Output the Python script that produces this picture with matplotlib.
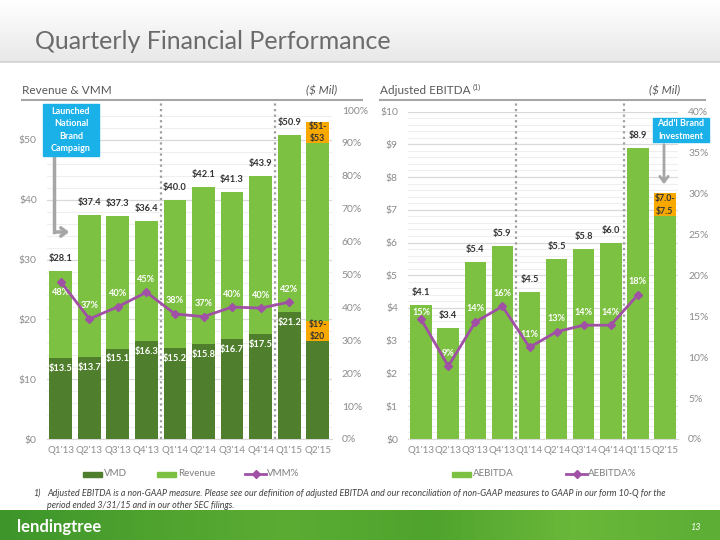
import numpy as np
import matplotlib
matplotlib.use("Agg")
import matplotlib.pyplot as plt
from matplotlib.patches import Rectangle, FancyArrowPatch
from matplotlib.lines import Line2D
from matplotlib.ticker import AutoMinorLocator, FuncFormatter
from matplotlib.colors import LinearSegmentedColormap

# ---- data ----
quarters = ["Q1'13", "Q2'13", "Q3'13", "Q4'13", "Q1'14",
            "Q2'14", "Q3'14", "Q4'14", "Q1'15", "Q2'15"]

revenue = [28.1, 37.4, 37.3, 36.4, 40.0, 42.1, 41.3, 43.9, 50.9, 49.5]
vmd = [13.5, 13.7, 15.1, 16.3, 15.2, 15.8, 16.7, 17.5, 21.2, 16.4]
vmm_pct = [47.8, 36.5, 40.2, 44.6, 38.0, 37.2, 40.1, 39.8, 41.6]
vmm_labels = ["48%", "37%", "40%", "45%", "38%", "37%", "40%", "40%", "42%"]
rev_guide = (49.5, 53.0)
rev_guide_text = "$51-\n$53"
vmd_guide = (16.4, 19.8)
vmd_guide_text = "$19-\n$20"

ebitda = [4.1, 3.4, 5.4, 5.9, 4.5, 5.5, 5.8, 6.0, 8.9, 6.8]
ebitda_pct = [14.6, 8.9, 14.3, 16.2, 11.2, 13.1, 13.9, 13.9, 17.6]
ebitda_labels = ["15%", "9%", "14%", "16%", "11%", "13%", "14%", "14%", "18%"]
ebitda_guide = (6.8, 7.5)
ebitda_guide_text = "$7.0-\n$7.5"

LIGHT = "#7dc142"
DARK = "#4f7f2c"
ORANGE = "#f9a800"
PURPLE = "#a050a5"
BLUE = "#1ab0e8"
TICK = "#8c8c8c"
GRID = "#d9d9d9"
MINOR = "#efefef"

W, H = 720, 540


def fx(px):
    return px / W


def fy(py):
    return 1 - py / H


plt.rcParams['font.family'] = ['Lato', 'DejaVu Sans']
fig = plt.figure(figsize=(7.2, 5.4), dpi=100)

# header band
hdr = fig.add_axes([0, fy(62), 1, 62 / H], zorder=-5)
hdr.imshow(np.linspace(0, 1, 60).reshape(-1, 1), aspect='auto',
           cmap=LinearSegmentedColormap.from_list('h', ['#ffffff', '#e8e8e8']),
           extent=[0, 1, 0, 1])
hdr.axis('off')
fig.add_artist(Line2D([0, 1], [fy(62), fy(62)], color='#d2d2d2', lw=1.2))
fig.text(fx(35), fy(42), "Quarterly Financial Performance", fontsize=18,
         color='#6b6b6b', va='center')

# footer band
ftr = fig.add_axes([0, 0, 1, 30 / H], zorder=-5)
ftr.imshow(np.linspace(0, 1, 100).reshape(1, -1), aspect='auto',
           cmap=LinearSegmentedColormap.from_list(
               'f', ['#3e962b', '#4ea22e', '#5aac33', '#4fa42d', '#6ab83a', '#5cae34']),
           extent=[0, 1, 0, 1])
ftr.axis('off')
fig.text(fx(17), fy(527), "lendingtree", fontsize=12, fontweight='bold',
         color='white', va='center')
fig.text(fx(695), fy(527), "13", fontsize=6.5, color='white',
         va='center', ha='center', style='italic')

# footnote
fig.text(fx(33), fy(493), "1)", fontsize=6.4, style='italic', color='#404040', va='center')
fig.text(fx(47), fy(493),
         "Adjusted EBITDA is a non-GAAP measure. Please see our definition of adjusted EBITDA "
         "and our reconciliation of non-GAAP measures to GAAP in our form 10-Q for the",
         fontsize=6.4, style='italic', color='#404040', va='center')
fig.text(fx(47), fy(506), "period ended 3/31/15 and in our other SEC filings.",
         fontsize=6.4, style='italic', color='#404040', va='center')

# panel headers
for x0, x1, name in [(22, 362, "Revenue & VMM"), (380, 705, "Adjusted EBITDA")]:
    fig.add_artist(Line2D([fx(x0), fx(x1)], [fy(100), fy(100)], color='#a6a6a6', lw=1.5))
    fig.text(fx(x0), fy(91), name, fontsize=8.5, color='#595959', va='center')
    fig.text(fx(x1 - 25), fy(91), "($ Mil)", fontsize=8.5, color='#595959',
             va='center', ha='right', style='italic')
fig.text(fx(472.5), fy(87), "(1)", fontsize=5.2, color='#595959', va='center')

x = np.arange(len(quarters))
bw = 0.8
LBL = 6.7


def style_axes(ax, axr, top, step, rtop, rstep, money_fmt, pct_fmt):
    ax.set_xlim(-0.5, len(quarters) - 0.5)
    ax.set_ylim(0, top)
    ax.set_yticks(np.arange(0, top + 1e-9, step))
    ax.yaxis.set_minor_locator(AutoMinorLocator(5))
    ax.yaxis.set_major_formatter(FuncFormatter(money_fmt))
    ax.grid(which='major', axis='y', color=GRID, lw=0.9)
    ax.grid(which='minor', axis='y', color=MINOR, lw=0.8)
    ax.set_axisbelow(True)
    ax.set_xticks(x, quarters)
    ax.tick_params(axis='x', length=0, pad=5, labelsize=7, labelcolor=TICK)
    ax.tick_params(axis='y', which='both', length=0, pad=7, labelsize=7.5, labelcolor=TICK)
    for s in ['top', 'left', 'right']:
        ax.spines[s].set_visible(False)
    ax.spines['bottom'].set_color(GRID)
    axr.set_ylim(0, rtop)
    axr.set_yticks(np.arange(0, rtop + 1e-9, rstep))
    axr.yaxis.set_major_formatter(FuncFormatter(pct_fmt))
    axr.tick_params(axis='y', length=0, pad=7, labelsize=7.5, labelcolor=TICK)
    for s in axr.spines.values():
        s.set_visible(False)


# ---------------- left: Revenue & VMM ----------------
ax1 = fig.add_axes([fx(46.5), fy(439), fx(332 - 46.5), (439 - 110) / H])
ax1b = ax1.twinx()
style_axes(ax1, ax1b, 55, 10, 1.0, 0.1,
           lambda v, p: f"${v:.0f}",
           lambda v, p: f"{v * 100:.0f}%")
ax1.set_yticks([0, 10, 20, 30, 40, 50])

ax1.bar(x, revenue, bw, color=LIGHT, zorder=2)
ax1.bar(x, vmd, bw, color=DARK, zorder=3)
ax1.bar(x[-1], rev_guide[1] - rev_guide[0], bw, bottom=rev_guide[0], color=ORANGE, zorder=3)
ax1.bar(x[-1], vmd_guide[1] - vmd_guide[0], bw, bottom=vmd_guide[0], color=ORANGE, zorder=4)
ax1.text(x[-1], sum(rev_guide) / 2, rev_guide_text, ha='center', va='center',
         fontsize=6.3, fontweight='bold', color='#333333', linespacing=1.5, zorder=6)
ax1.text(x[-1], sum(vmd_guide) / 2, vmd_guide_text, ha='center', va='center',
         fontsize=6.3, fontweight='bold', color='#333333', linespacing=1.5, zorder=6)
for i in range(len(vmm_pct)):
    ax1.annotate(f"${revenue[i]:.1f}", (x[i], revenue[i]), xytext=(0, 12.5),
                 textcoords='offset pixels', ha='center', va='center',
                 fontsize=LBL, fontweight='bold', color='#333333')
    ax1.annotate(f"${vmd[i]:.1f}", (x[i], vmd[i]), xytext=(0, -10),
                 textcoords='offset pixels', ha='center', va='center',
                 fontsize=LBL, fontweight='bold', color='white', zorder=6)
for sep in (3.5, 7.5):
    ax1.plot([sep, sep], [0, 56.2], ls=(0, (1, 1.5)), color='#a0a0a0', lw=1.6,
             clip_on=False, zorder=4)

ax1b.plot(x[:len(vmm_pct)], np.array(vmm_pct) / 100, color=PURPLE, lw=2,
          marker='D', ms=4.5, zorder=5)
for i, (v, lab) in enumerate(zip(vmm_pct, vmm_labels)):
    off = -11 if i == 0 else 13
    ax1b.annotate(lab, (x[i], v / 100), xytext=(0, off), textcoords='offset pixels',
                  ha='center', va='center', fontsize=6.6, fontweight='bold', color='white')

# ---------------- right: Adjusted EBITDA ----------------
ax2 = fig.add_axes([fx(407.7), fy(439), fx(678.4 - 407.7), (439 - 111.5) / H])
ax2b = ax2.twinx()
style_axes(ax2, ax2b, 10, 1, 0.4, 0.05,
           lambda v, p: f"${v:.0f}",
           lambda v, p: f"{v * 100:.0f}%")

ax2.bar(x, ebitda, bw, color=LIGHT, zorder=2)
ax2.bar(x[-1], ebitda_guide[1] - ebitda_guide[0], bw, bottom=ebitda_guide[0],
        color=ORANGE, zorder=3)
ax2.text(x[-1], sum(ebitda_guide) / 2, ebitda_guide_text, ha='center', va='center',
         fontsize=6.3, fontweight='bold', color='#333333', linespacing=1.5, zorder=6)
for i in range(len(ebitda_pct)):
    ax2.annotate(f"${ebitda[i]:.1f}", (x[i], ebitda[i]), xytext=(0, 12.5),
                 textcoords='offset pixels', ha='center', va='center',
                 fontsize=LBL, fontweight='bold', color='#333333')
for sep in (3.5, 7.5):
    ax2.plot([sep, sep], [0, 10.25], ls=(0, (1, 1.5)), color='#a0a0a0', lw=1.6,
             clip_on=False, zorder=4)

ax2b.plot(x[:len(ebitda_pct)], np.array(ebitda_pct) / 100, color=PURPLE, lw=2,
          marker='D', ms=4.5, zorder=5)
for i, (v, lab) in enumerate(zip(ebitda_pct, ebitda_labels)):
    off = 7 if i == 0 else 13
    ax2b.annotate(lab, (x[i], v / 100), xytext=(0, off), textcoords='offset pixels',
                  ha='center', va='center', fontsize=6.6, fontweight='bold', color='white')

# ---------------- callouts ----------------
fig.add_artist(Rectangle((fx(43), fy(156)), fx(99 - 43), (156 - 104) / H,
                         transform=fig.transFigure, color=BLUE, zorder=10))
fig.text(fx(71), fy(130), "Launched\nNational\nBrand\nCampaign", ha='center', va='center',
         fontsize=6.5, fontweight='bold', color='white', linespacing=1.45, zorder=11)
fig.add_artist(Line2D([fx(54), fx(54)], [fy(156), fy(232)], color='#a6a6a6', lw=2.5, zorder=9))
fig.add_artist(FancyArrowPatch(
    (fx(53), fy(232)), (fx(72), fy(232)), transform=fig.transFigure,
    arrowstyle='->,head_length=4,head_width=3', color='#a6a6a6', lw=2.5, zorder=9))

fig.add_artist(Rectangle((fx(653), fy(142)), fx(709 - 653), (142 - 118) / H,
                         transform=fig.transFigure, color=BLUE, zorder=10))
fig.text(fx(681), fy(130), "Add'l Brand\nInvestment", ha='center', va='center',
         fontsize=6.5, fontweight='bold', color='white', linespacing=1.45, zorder=11)
fig.add_artist(FancyArrowPatch(
    (fx(664), fy(142)), (fx(664), fy(187)), transform=fig.transFigure,
    arrowstyle='->,head_length=4,head_width=3', color='#a6a6a6', lw=2, zorder=9))


# ---------------- legends ----------------
def legend_box(x0, color, label):
    fig.add_artist(Rectangle((fx(x0), fy(476.5)), fx(19), 5 / H,
                             transform=fig.transFigure, color=color))
    fig.text(fx(x0 + 21), fy(474), label, fontsize=7, color='#7f7f7f', va='center')


def legend_line(x0, label):
    fig.add_artist(Line2D([fx(x0), fx(x0 + 10.5), fx(x0 + 21)], [fy(474)] * 3, color=PURPLE,
                          lw=2, marker='D', ms=4, markevery=[1], transform=fig.transFigure))
    fig.text(fx(x0 + 22), fy(474), label, fontsize=7, color='#7f7f7f', va='center')


legend_box(83, DARK, "VMD")
legend_box(157, LIGHT, "Revenue")
legend_line(245, "VMM%")
legend_box(452, LIGHT, "AEBITDA")
legend_line(566, "AEBITDA%")

fig.savefig("out.png", dpi=100)
